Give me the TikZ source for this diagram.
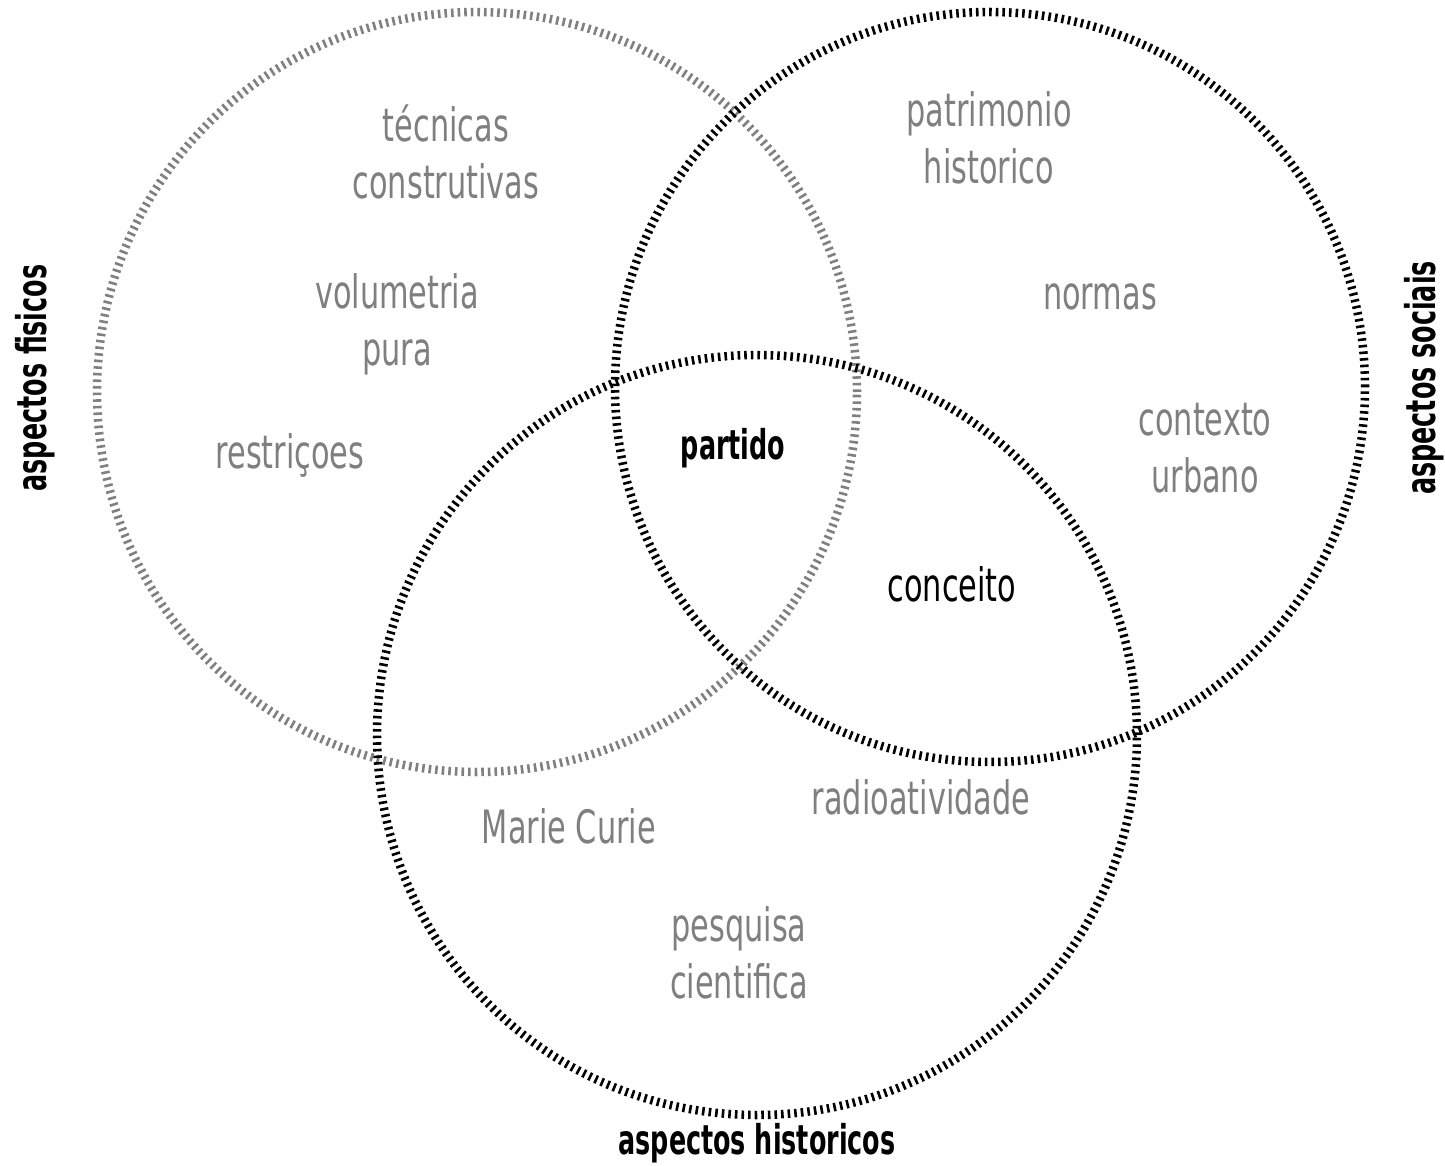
\documentclass[tikz,border=0pt]{standalone}
\usepackage{fontspec}
\newfontfamily\lightf[FakeStretch=0.66]{DejaVu Sans}
\newfontfamily\labf[FakeStretch=0.62]{DejaVu Sans Bold}
\definecolor{txtgray}{HTML}{7F7F7F}
\definecolor{ringgray}{HTML}{808080}
\tikzset{
  ring/.style={line width=8.5pt, dash pattern=on 2.6pt off 4pt},
  soft/.style={text=txtgray, align=center, font=\lightf\fontsize{46}{57}\selectfont},
  dark/.style={text=black, align=center, font=\lightf\fontsize{46}{57}\selectfont},
  strong/.style={text=black, align=center, inner sep=0pt, font=\labf\fontsize{41}{50}\selectfont},
}
\begin{document}
\begin{tikzpicture}[x=1pt,y=-1pt]
\useasboundingbox (0,0) rectangle (1445,1166);
\draw[ring, draw=ringgray] (477,392) circle [radius=380pt];
\draw[ring, draw=black] (990,387) circle [radius=375pt];
\draw[ring, draw=black] (757,735) circle [radius=380pt];

\node[soft] (tec) at (446,152) {técnicas\\construtivas};
\node[soft] (vol) at (397,324) {volumetria\\pura};
\node[soft] (res) at (290,455) {restriçoes};
\node[soft] (pat) at (989,138) {patrimonio\\historico};
\node[soft] (nor) at (1100,297) {normas};
\node[soft] (ctx) at (1205,448) {contexto\\urbano};
\node[strong] (par) at (733,448) {partido};
\node[dark] (con) at (952,584) {conceito};
\node[soft] (rad) at (921,797) {radioatividade};
\node[soft] (mar) at (569,826) {Marie Curie};
\node[soft] (pes) at (739,953) {pesquisa\\cientifica};
\node[strong, rotate=90] (fis) at (35,378) {aspectos fisicos};
\node[strong, rotate=90] (soc) at (1424,378) {aspectos sociais};
\node[strong] (his) at (757,1143) {aspectos historicos};
\end{tikzpicture}
\end{document}
